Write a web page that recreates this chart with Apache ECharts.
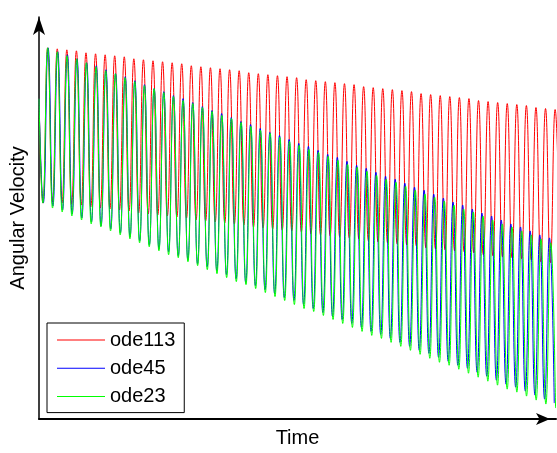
<!DOCTYPE html>
<html>
<head>
<meta charset="utf-8">
<script src="https://cdn.jsdelivr.net/npm/echarts@6/dist/echarts.min.js"></script>
<style>
html,body{margin:0;padding:0;background:#fff;}
#chart{width:557px;height:453px;}
</style>
</head>
<body>
<div id="chart"></div>
<script>
// ---- data (angular velocity, arbitrary units) ----
const seriesNames = ['ode113', 'ode45', 'ode23'];
const startValue = 32.2;

// ode113 (red): peak of each swing and the trough before each peak (last trough follows the last peak)
const redPeaks = [37.3,37.2,37.1,37.0,36.8,36.7,36.6,36.5,36.4,36.2,36.1,36.0,35.9,35.8,35.7,35.5,35.4,35.3,35.2,35.1,
  35.0,34.8,34.7,34.6,34.5,34.4,34.3,34.1,34.0,33.9,33.8,33.7,33.6,33.4,33.3,33.2,33.1,33.0,32.9,32.7,
  32.6,32.5,32.4,32.3,32.2,32.0,31.9,31.8,31.7,31.6,31.5,31.3,31.2,31.1];
const redTroughs = [21.7,21.8,21.7,21.6,21.5,21.3,21.2,21.1,21.0,20.9,20.7,20.6,20.5,20.4,20.3,20.2,20.0,19.9,19.8,19.7,
  19.6,19.5,19.3,19.2,19.1,19.0,18.9,18.8,18.6,18.5,18.4,18.3,18.2,18.1,17.9,17.8,17.7,17.6,17.5,17.4,
  17.2,17.1,17.0,16.9,16.8,16.7,16.5,16.4,16.3,16.2,16.1,16.0,15.8,15.7,15.6];

// ode45 (blue)
const bluePeaks = [37.3,36.9,36.6,36.2,35.8,35.5,35.1,34.7,34.4,34.0,33.6,33.2,32.9,32.5,32.2,31.8,31.4,31.0,30.7,30.3,
  29.9,29.6,29.2,28.8,28.5,28.1,27.7,27.4,27.0,26.6,26.3,25.9,25.5,25.2,24.8,24.4,24.1,23.7,23.3,23.0,
  22.6,22.2,21.8,21.5,21.1,20.7,20.4,20.0,19.6,19.3,18.9,18.5,18.2];
const blueTroughs = [21.7,21.4,21.0,20.6,20.2,19.8,19.4,19.1,18.7,18.3,17.9,17.5,17.1,16.8,16.4,16.0,15.6,15.3,14.9,14.5,
  14.1,13.7,13.4,13.0,12.6,12.2,11.9,11.5,11.1,10.7,10.3,10.0,9.6,9.2,8.8,8.5,8.1,7.7,7.3,6.9,
  6.6,6.2,5.8,5.4,5.1,4.7,4.3,3.9,3.5,3.2,2.8,2.4,2.0,1.6];

// ode23 (green)
const greenPeaks = [37.3,36.9,36.5,36.2,35.8,35.4,35.0,34.7,34.3,33.9,33.5,33.2,32.8,32.4,32.0,31.7,31.3,30.9,30.5,30.2,
  29.8,29.4,29.0,28.7,28.3,27.9,27.5,27.1,26.8,26.4,26.0,25.6,25.3,24.9,24.5,24.1,23.8,23.4,23.0,22.6,
  22.3,21.9,21.5,21.1,20.8,20.4,20.0,19.6,19.3,18.9,18.5,18.1,17.7];
const greenTroughs = [21.7,21.2,20.8,20.4,20.0,19.6,19.3,18.9,18.5,18.1,17.7,17.3,16.9,16.5,16.2,15.8,15.4,15.0,14.6,14.2,
  13.8,13.5,13.1,12.7,12.3,11.9,11.5,11.1,10.8,10.4,10.0,9.6,9.2,8.8,8.4,8.1,7.7,7.3,6.9,6.5,
  6.1,5.7,5.4,5.0,4.6,4.2,3.8,3.4,3.0,2.7,2.3,1.9,1.5,1.1];

// time of first peak and swing period per solver (time units)
const firstPeak = {ode113: 0.907, ode45: 0.95, ode23: 0.907};
const period = {ode113: 1.0, ode45: 1.007, ode23: 1.0104};
const timeMax = 54;
const yMax = 40.4;

function buildSeries(peaks, troughs, t0, P) {
  const pts = [[0, startValue]];
  for (let j = 0; j < peaks.length; j++) {
    const tp = t0 + j * P;
    pts.push([tp - 0.5 * P, troughs[j]], [tp, peaks[j]]);
  }
  const last = t0 + (peaks.length - 1) * P;
  const tr = troughs[peaks.length];
  if (tr != null) pts.push([last + 0.5 * P, tr]);
  return pts;
}

const colors = {ode113: '#ff0000', ode45: '#0000ff', ode23: '#00ff00'};
const dataMap = {
  ode113: buildSeries(redPeaks, redTroughs, firstPeak.ode113, period.ode113),
  ode45: buildSeries(bluePeaks, blueTroughs, firstPeak.ode45, period.ode45),
  ode23: buildSeries(greenPeaks, greenTroughs, firstPeak.ode23, period.ode23)
};

const font = '"Liberation Sans", Arial, Helvetica, sans-serif';
const chart = echarts.init(document.getElementById('chart'), null, {renderer: 'canvas'});
chart.setOption({
  animation: false,
  backgroundColor: '#ffffff',
  grid: {left: 38, right: 1, top: 17, bottom: 32, containLabel: false},
  xAxis: {
    type: 'value', min: 0, max: timeMax,
    name: 'Time', nameLocation: 'middle', nameGap: 9,
    nameTextStyle: {fontFamily: font, fontSize: 20, color: '#000'},
    axisLine: {show: true, onZero: false, lineStyle: {color: '#000', width: 2},
      symbol: ['none', 'arrow'], symbolSize: [9, 14], symbolOffset: [0, -6]},
    axisTick: {show: false}, axisLabel: {show: false}, splitLine: {show: false}
  },
  yAxis: {
    type: 'value', min: 0, max: yMax,
    name: 'Angular Velocity', nameLocation: 'middle', nameGap: 11,
    nameTextStyle: {fontFamily: font, fontSize: 20, color: '#000'},
    axisLine: {show: true, onZero: false, lineStyle: {color: '#000', width: 1.5},
      symbol: ['none', 'arrow'], symbolSize: [9, 18], symbolOffset: [0, 0]},
    axisTick: {show: false}, axisLabel: {show: false}, splitLine: {show: false}
  },
  legend: {
    orient: 'vertical', left: 47, top: 323,
    backgroundColor: '#ffffff', borderColor: '#000', borderWidth: 1,
    padding: [6, 9, 5, 10], itemGap: 6.3, itemWidth: 48, itemHeight: 1,
    icon: 'rect',
    textStyle: {fontFamily: font, fontSize: 20, color: '#000', lineHeight: 22},
    data: seriesNames
  },
  series: seriesNames.map(function (n) {
    return {
      name: n, type: 'line', data: dataMap[n],
      showSymbol: false, symbol: 'none', sampling: null,
      smooth: 0.5,
      lineStyle: {color: colors[n], width: 1},
      itemStyle: {color: colors[n]},
      emphasis: {disabled: true}
    };
  })
});
</script>
</body>
</html>
